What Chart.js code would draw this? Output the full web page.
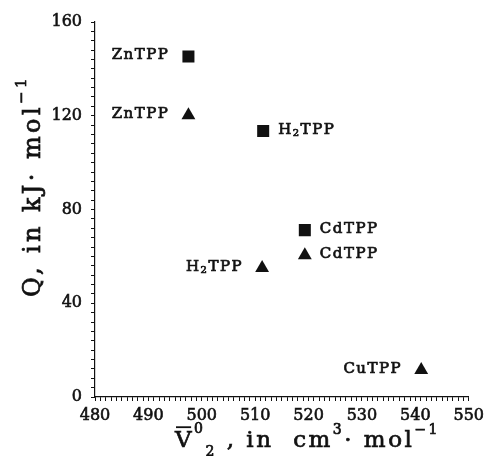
<!DOCTYPE html>
<html>
<head>
<meta charset="utf-8">
<script src="https://cdn.jsdelivr.net/npm/chart.js@4.4.0/dist/chart.umd.min.js"></script>
<style>
  html, body { margin: 0; padding: 0; background: #fff; }
  #wrap { width: 489px; height: 456px; }
</style>
</head>
<body>
<div id="wrap"><canvas id="myChart" width="489" height="456"></canvas></div>
<script>
// data
const squareNames = ['ZnTPP', 'H2TPP', 'CdTPP'];
const squareV = [497.5, 511.5, 519.3];
const squareQ = [145.3, 113.5, 71.2];

const triNames = ['ZnTPP', 'H2TPP', 'CdTPP', 'CuTPP'];
const triV = [497.5, 511.3, 519.3, 541.1];
const triQ = [120.2, 55.0, 60.5, 11.5];

// which side of the marker the name sits on
const squareSide = ['left', 'right', 'right'];
const triSide = ['left', 'left', 'right', 'left'];

const xLabels = [480, 490, 500, 510, 520, 530, 540, 550];
const yLabels = [0, 40, 80, 120, 160];

const FONT = '"DejaVu Serif", "Liberation Serif", serif';
const INK = '#111';

function toPoints(xs, ys) {
  return xs.map((x, i) => ({ x: x, y: ys[i] }));
}

// text made of pieces (sub/superscripts, overbar), slightly thickened
function setFont(ctx, p) {
  ctx.font = p.size + 'px ' + FONT;
}
function richWidth(ctx, parts) {
  let w = 0;
  parts.forEach(p => {
    setFont(ctx, p);
    w += ctx.measureText(p.t).width;
  });
  return w;
}
function drawRich(ctx, parts, x, y, align, spacing) {
  ctx.letterSpacing = (spacing || 0) + 'px';
  let w = richWidth(ctx, parts);
  let cx = x;
  if (align === 'center') cx = x - w / 2;
  if (align === 'right') cx = x - w;
  ctx.textBaseline = 'alphabetic';
  ctx.textAlign = 'left';
  ctx.strokeStyle = INK;
  ctx.lineWidth = 0.7;
  parts.forEach(p => {
    setFont(ctx, p);
    let pw = ctx.measureText(p.t).width;
    ctx.fillText(p.t, cx, y + (p.dy || 0));
    ctx.strokeText(p.t, cx, y + (p.dy || 0));
    if (p.bar) {
      ctx.fillRect(cx + 1, y - p.size * 0.9, pw - 4, 1.8);
    }
    cx += pw;
  });
  ctx.letterSpacing = '0px';
}

function nameParts(name) {
  if (name.startsWith('H2')) {
    return [
      { t: 'H', size: 15 },
      { t: '2', size: 10, dy: 2 },
      { t: name.slice(2), size: 15 }
    ];
  }
  return [{ t: name, size: 15 }];
}

const annotate = {
  id: 'annotate',
  afterDraw(chart) {
    const ctx = chart.ctx;
    const xs = chart.scales.x, ys = chart.scales.y;
    ctx.save();
    ctx.fillStyle = INK;

    function label(names, vx, vy, side) {
      names.forEach((n, i) => {
        const px = xs.getPixelForValue(vx[i]);
        const py = ys.getPixelForValue(vy[i]);
        if (side[i] === 'left') {
          drawRich(ctx, nameParts(n), px - 19, py + 3, 'right', 1.5);
        } else {
          drawRich(ctx, nameParts(n), px + 15, py + 3, 'left', 1.5);
        }
      });
    }
    label(squareNames, squareV, squareQ, squareSide);
    label(triNames, triV, triQ, triSide);

    // x axis title
    drawRich(ctx, [
      { t: 'V', size: 23, bar: true },
      { t: '0', size: 14, dy: -14 },
      { t: '2', size: 14, dy: 9 },
      { t: ' , in  cm', size: 23 },
      { t: '3', size: 14, dy: -13 },
      { t: '\u00b7 mol', size: 23 },
      { t: '\u22121', size: 14, dy: -13 }
    ], 175, 447, 'left', 2.5);

    // y axis title
    ctx.translate(40, 297);
    ctx.rotate(-Math.PI / 2);
    drawRich(ctx, [
      { t: 'Q, in kJ\u00b7 mol', size: 24 },
      { t: '\u22121', size: 15, dy: -14 }
    ], 0, 0, 'left', 3.4);
    ctx.restore();
  }
};

const ctx = document.getElementById('myChart');
const myChart = new Chart(ctx, {
  type: 'scatter',
  data: {
    datasets: [{
      label: 'squares',
      data: toPoints(squareV, squareQ),
      pointStyle: 'rect',
      pointRadius: 8.5,
      backgroundColor: INK,
      borderColor: INK,
      borderWidth: 0
    },
    {
      label: 'triangles',
      data: toPoints(triV, triQ),
      pointStyle: 'triangle',
      pointRadius: 8,
      backgroundColor: INK,
      borderColor: INK,
      borderWidth: 0
    }]
  },
  options: {
    responsive: false,
    animation: false,
    events: [],
    layout: { padding: { top: 22, right: 18, left: 0, bottom: 0 } },
    plugins: {
      legend: { display: false },
      tooltip: { enabled: false }
    },
    scales: {
      x: {
        type: 'linear',
        min: 480,
        max: 550,
        afterFit: s => { s.height = 59; },
        border: { color: INK, width: 1.2 },
        grid: { drawOnChartArea: false, tickLength: 4, color: INK, tickWidth: 1 },
        ticks: {
          stepSize: 1,
          autoSkip: false,
          maxRotation: 0,
          padding: 5,
          color: INK,
          textStrokeColor: INK,
          textStrokeWidth: 0.6,
          font: { family: FONT, size: 16 },
          callback: v => xLabels.includes(v) ? String(v) : ''
        }
      },
      y: {
        type: 'linear',
        min: 0,
        max: 160,
        afterFit: s => { s.width = 95; },
        border: { color: INK, width: 1.2 },
        grid: { drawOnChartArea: false, tickLength: 4, color: INK, tickWidth: 1 },
        ticks: {
          stepSize: 4,
          autoSkip: false,
          padding: 9,
          color: INK,
          textStrokeColor: INK,
          textStrokeWidth: 0.6,
          font: { family: FONT, size: 16 },
          callback: v => yLabels.includes(v) ? String(v) : ''
        }
      }
    }
  },
  plugins: [annotate]
});
</script>
</body>
</html>
